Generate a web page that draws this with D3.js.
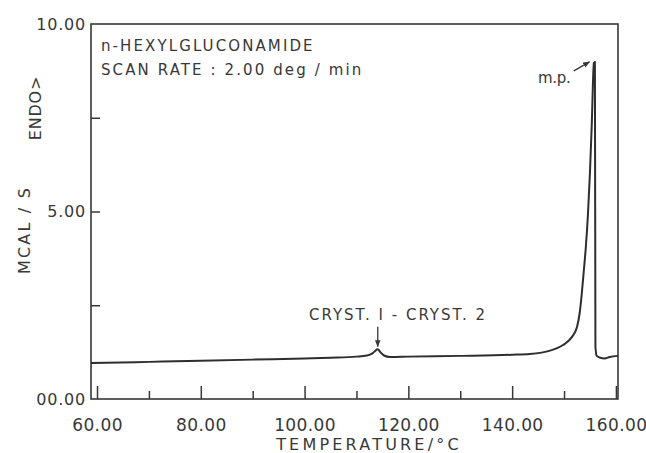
<!DOCTYPE html>
<html>
<head>
<meta charset="utf-8">
<script src="https://cdn.jsdelivr.net/npm/d3@7"></script>
<style>
  html, body { margin: 0; padding: 0; background: #fff; }
  svg { display: block; }
  text { font-family: "DejaVu Sans", sans-serif; fill: #383838; }
</style>
</head>
<body>
<svg id="chart" width="646" height="453"></svg>
<script>
// ---- data ----
const temperature = [58.84, 70, 80, 90, 100, 105, 110, 112, 113, 113.6, 114.1, 114.6, 115.3, 116.5, 120, 130, 140, 143.4, 147.3, 149.8, 151.5, 152.5, 153.0, 153.4, 153.8, 154.2, 154.6, 155.0, 155.35, 155.75, 155.95, 156.05, 156.3, 157, 157.8, 158.8, 160.4];
const heatFlow    = [0.96, 0.99, 1.02, 1.05, 1.08, 1.10, 1.13, 1.16, 1.21, 1.28, 1.33, 1.25, 1.16, 1.12, 1.13, 1.15, 1.18, 1.20, 1.29, 1.44, 1.65, 1.92, 2.28, 2.78, 3.40, 4.05, 4.90, 6.05, 7.35, 8.96, 8.99, 1.40, 1.15, 1.10, 1.08, 1.12, 1.15];

const xTickValues = [60, 80, 100, 120, 140, 160];
const xTickLabels = ["60.00", "80.00", "100.00", "120.00", "140.00", "160.00"];
const xMinorTicks = [70, 90, 110, 130, 150];
const yTickValues = [0, 5, 10];
const yTickLabels = ["00.00", "5.00", "10.00"];
const yMinorTicks = [2.5, 5, 7.5];

const titleLines = ["n-HEXYLGLUCONAMIDE", "SCAN RATE : 2.00 deg / min"];
const xTitle = "TEMPERATURE/\u00B0C";
const yTitleTop = "ENDO>";
const yTitleBottom = "MCAL / S";

// annotations in data coordinates
const crystLabel = "CRYST. I - CRYST. 2";
const crystArrow = { t: 114.1, from: 1.93, to: 1.40 };
const mpLabel = "m.p.";
const mpArrow = { t0: 151.9, v0: 8.75, t1: 154.9, v1: 8.99 };

// ---- layout ----
const svg = d3.select("#chart");
const x = d3.scaleLinear().domain([58.84, 160.4]).range([91, 618]);
const y = d3.scaleLinear().domain([0, 10]).range([399, 24]);
const ink = "#383838";

svg.append("defs").append("marker")
  .attr("id", "arrow").attr("viewBox", "0 0 10 10")
  .attr("refX", 9).attr("refY", 5)
  .attr("markerWidth", 7).attr("markerHeight", 7)
  .attr("markerUnits", "userSpaceOnUse")
  .attr("orient", "auto")
  .append("path").attr("d", "M0,1 L10,5 L0,9 Z").attr("fill", ink);

// frame
svg.append("rect")
  .attr("x", x.range()[0]).attr("y", y.range()[1])
  .attr("width", x.range()[1] - x.range()[0])
  .attr("height", y.range()[0] - y.range()[1])
  .attr("fill", "none").attr("stroke", ink).attr("stroke-width", 1.6);

// x axis: major ticks with labels
const xAxisMajor = svg.append("g").attr("transform", `translate(0,${y(0)})`)
  .call(d3.axisBottom(x).tickValues(xTickValues).tickSize(-13).tickPadding(20)
    .tickFormat((d, i) => xTickLabels[i]));
xAxisMajor.select(".domain").remove();
xAxisMajor.selectAll(".tick line").attr("stroke", ink).attr("stroke-width", 1.5);
xAxisMajor.selectAll(".tick text").attr("font-size", 17).attr("letter-spacing", 0.4)
  .attr("fill", ink).attr("font-family", "DejaVu Sans");

const xAxisMinor = svg.append("g").attr("transform", `translate(0,${y(0)})`)
  .call(d3.axisBottom(x).tickValues(xMinorTicks).tickSize(-8).tickFormat(""));
xAxisMinor.select(".domain").remove();
xAxisMinor.selectAll(".tick line").attr("stroke", ink).attr("stroke-width", 1.5);

// y axis: labels and inward ticks
const yAxisLab = svg.append("g").attr("transform", `translate(${x.range()[0]},0)`)
  .call(d3.axisLeft(y).tickValues(yTickValues).tickSize(0).tickPadding(5)
    .tickFormat((d, i) => yTickLabels[i]));
yAxisLab.select(".domain").remove();
yAxisLab.selectAll(".tick text").attr("font-size", 16).attr("letter-spacing", 0.8)
  .attr("fill", ink).attr("font-family", "DejaVu Sans");

const yAxisMinor = svg.append("g").attr("transform", `translate(${x.range()[0]},0)`)
  .call(d3.axisLeft(y).tickValues(yMinorTicks).tickSize(-9).tickFormat(""));
yAxisMinor.select(".domain").remove();
yAxisMinor.selectAll(".tick line").attr("stroke", ink).attr("stroke-width", 1.5);

// axis titles
svg.append("text").attr("x", 369).attr("y", 450).attr("text-anchor", "middle")
  .attr("font-size", 16).attr("letter-spacing", 3.2).text(xTitle);

svg.append("text").attr("transform", "translate(41,108) rotate(-90)")
  .attr("text-anchor", "middle").attr("font-size", 16).attr("letter-spacing", 0.8)
  .text(yTitleTop);
svg.append("text").attr("transform", "translate(30,230) rotate(-90)")
  .attr("text-anchor", "middle").attr("font-size", 16).attr("letter-spacing", 2.2)
  .text(yTitleBottom);

// title block
svg.selectAll("text.title").data(titleLines).enter().append("text")
  .attr("class", "title")
  .attr("x", 101).attr("y", (d, i) => 51 + i * 24)
  .attr("font-size", 15).attr("letter-spacing", 2.1)
  .text(d => d);

// curve
const pts = temperature.map((t, i) => [t, heatFlow[i]]);
svg.append("path").datum(pts)
  .attr("fill", "none").attr("stroke", "#2e2e2e").attr("stroke-width", 2)
  .attr("stroke-linejoin", "round")
  .attr("d", d3.line().x(d => x(d[0])).y(d => y(d[1])).curve(d3.curveMonotoneX));

// annotations
svg.append("text").attr("x", 309).attr("y", 320)
  .attr("font-size", 15).attr("letter-spacing", 2.0).text(crystLabel);
svg.append("line")
  .attr("x1", x(crystArrow.t)).attr("y1", y(crystArrow.from))
  .attr("x2", x(crystArrow.t)).attr("y2", y(crystArrow.to))
  .attr("stroke", ink).attr("stroke-width", 1.3).attr("marker-end", "url(#arrow)");

svg.append("text").attr("x", 538).attr("y", 83)
  .attr("font-size", 15).attr("letter-spacing", -0.3).text(mpLabel);
svg.append("line")
  .attr("x1", x(mpArrow.t0)).attr("y1", y(mpArrow.v0))
  .attr("x2", x(mpArrow.t1)).attr("y2", y(mpArrow.v1))
  .attr("stroke", ink).attr("stroke-width", 1.3).attr("marker-end", "url(#arrow)");
</script>
</body>
</html>
